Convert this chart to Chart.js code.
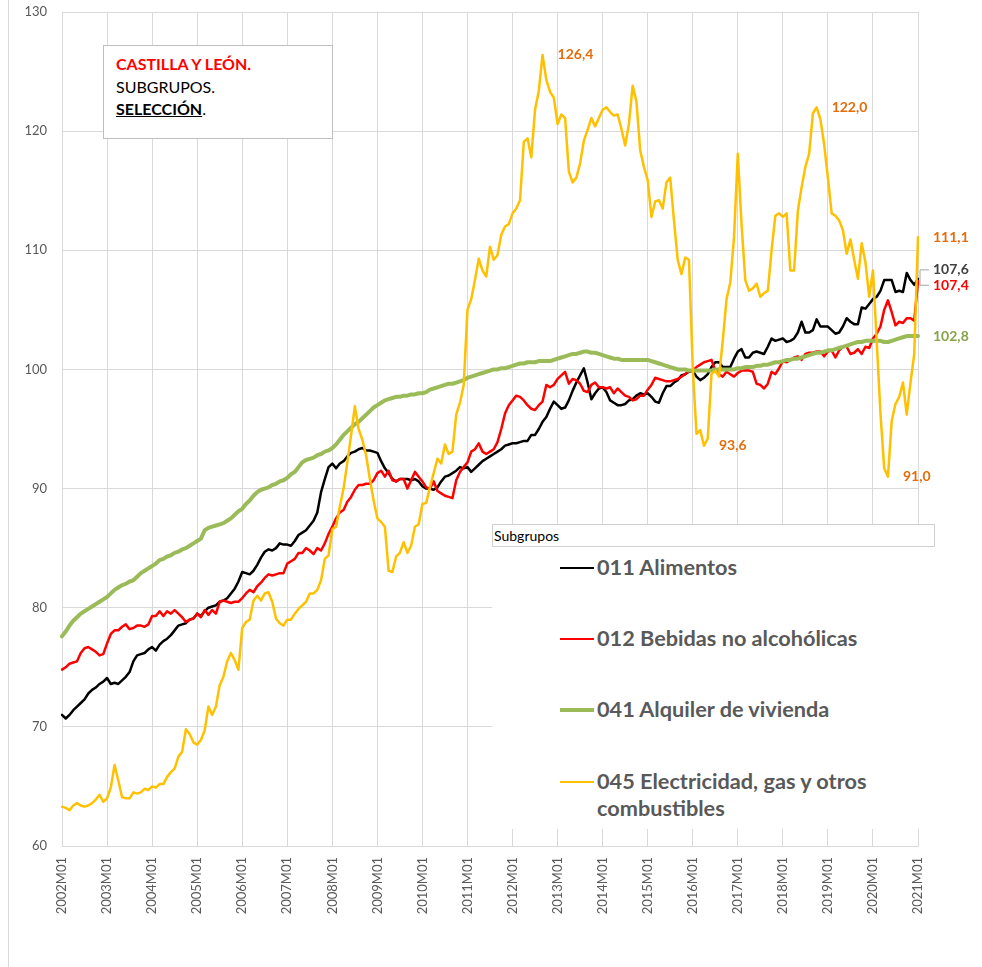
<!DOCTYPE html>
<html lang="es">
<head>
<meta charset="utf-8">
<title>Castilla y León. Subgrupos. Selección</title>
<script src="https://cdn.jsdelivr.net/npm/chart.js@4.4.1/dist/chart.umd.min.js"></script>
<style>
  html, body { margin: 0; padding: 0; background: #fff; }
  #wrap { position: relative; width: 982px; height: 967px; overflow: hidden; font-family: Lato, "Open Sans", sans-serif; }
  #frame-left { position: absolute; left: 8px; top: 0; width: 0; height: 967px; border-left: 1px solid #D9D9D9; }
  #titulo { position: absolute; left: 103px; top: 45px; width: 230px; height: 94px; box-sizing: border-box;
            border: 1px solid #BFBFBF; background: #fff; padding: 7px 0 0 12px; font-size: 16px; line-height: 22.5px; color: #000; }
  #titulo .rojo { color: #FF0000; font-weight: bold; }
  #titulo .sel { font-weight: bold; text-decoration: underline; }
  #leyenda { position: absolute; left: 492px; top: 524px; width: 450px; height: 305px; background: #fff; }
  #leyenda-cab { position: absolute; left: 0; top: 0; width: 443px; height: 23px; box-sizing: border-box;
                 border: 1px solid #D0D0D0; font-size: 14px; line-height: 21px; padding-left: 1px; color: #000; }
  .item { position: absolute; left: 68px; }
  .item .linea { position: absolute; left: 0; width: 34px; }
  .item .texto { position: absolute; left: 37px; white-space: nowrap; font-weight: bold; font-size: 21.7px; line-height: 27px; color: #595959; }
</style>
</head>
<body>
<div id="wrap">
  <canvas id="grafico" width="982" height="967"></canvas>
  <div id="frame-left"></div>
  <div id="titulo">
    <div class="rojo">CASTILLA Y LEÓN.</div>
    <div>SUBGRUPOS.</div>
    <div><span class="sel">SELECCIÓN</span>.</div>
  </div>
  <div id="leyenda">
    <div id="leyenda-cab">Subgrupos</div>
  </div>
</div>
<script>
// categorias: 2002M01 ... 2021M01
const meses = [];
for (let a = 2002; a <= 2021; a++) {
    for (let m = 1; m <= 12; m++) {
        if (a === 2021 && m > 1) break;
        meses.push(a + 'M' + String(m).padStart(2, '0'));
    }
}

const nombres = ['011 Alimentos', '012 Bebidas no alcohólicas', '041 Alquiler de vivienda', '045 Electricidad, gas y otros combustibles'];

// 011 Alimentos
const alimentos = [
    71.0, 70.7, 71.0, 71.4, 71.7, 72.0, 72.3, 72.8, 73.1, 73.3, 73.6, 73.8,   // 2002
    74.1, 73.6, 73.7, 73.6, 73.9, 74.2, 74.6, 75.5, 76.0, 76.1, 76.2, 76.5,   // 2003
    76.7, 76.4, 76.9, 77.2, 77.4, 77.7, 78.1, 78.5, 78.6, 78.7, 79.0, 79.1,   // 2004
    79.5, 79.3, 79.7, 80.0, 80.1, 80.2, 80.5, 80.6, 80.8, 81.2, 81.6, 82.2,   // 2005
    83.0, 82.9, 82.8, 83.1, 83.6, 84.2, 84.7, 84.9, 84.8, 85.0, 85.4, 85.3,   // 2006
    85.3, 85.2, 85.6, 86.1, 86.3, 86.5, 86.9, 87.3, 88.0, 89.7, 90.8, 91.8,   // 2007
    92.1, 91.7, 92.1, 92.3, 92.7, 93.0, 93.1, 93.3, 93.4, 93.2, 93.2, 93.1,   // 2008
    93.0, 92.3, 91.7, 91.3, 90.8, 90.6, 90.8, 90.8, 90.8, 90.7, 90.8, 90.6,   // 2009
    90.2, 90.0, 90.0, 89.9, 90.1, 90.6, 91.0, 91.1, 91.3, 91.5, 91.8, 91.7,   // 2010
    91.8, 91.4, 91.7, 92.0, 92.3, 92.5, 92.7, 92.9, 93.1, 93.3, 93.6, 93.7,   // 2011
    93.8, 93.8, 93.9, 94.0, 94.0, 94.5, 94.5, 95.0, 95.6, 96.0, 96.7, 97.3,   // 2012
    97.0, 96.7, 96.8, 97.4, 98.2, 98.9, 99.5, 100.1, 98.9, 97.5, 98.0, 98.4,  // 2013
    98.5, 98.1, 97.4, 97.2, 97.0, 97.0, 97.1, 97.4, 97.5, 97.8, 98.0, 97.9,   // 2014
    98.0, 97.7, 97.3, 97.2, 98.0, 98.6, 98.6, 98.9, 99.1, 99.5, 99.6, 99.8,   // 2015
    99.9, 99.4, 99.1, 99.3, 99.6, 100.2, 100.6, 100.6, 100.2, 100.2, 100.2, 100.9,   // 2016
    101.5, 101.7, 101.0, 101.0, 101.4, 101.5, 101.4, 101.3, 101.9, 102.6, 102.4, 102.5, // 2017
    102.6, 102.3, 102.4, 102.6, 103.1, 104.0, 103.1, 103.1, 103.3, 104.2, 103.6, 103.6, // 2018
    103.6, 103.3, 103.0, 103.1, 103.6, 104.3, 104.0, 103.8, 103.8, 105.2, 105.1, 105.5, // 2019
    105.9, 106.1, 106.6, 107.5, 107.5, 107.5, 106.5, 106.6, 106.5, 108.1, 107.5, 107.1, // 2020
    107.6                                                                               // 2021
];

// 012 Bebidas no alcohólicas
const bebidas = [
    74.8, 75.0, 75.3, 75.4, 75.5, 76.2, 76.6, 76.7, 76.5, 76.3, 76.0, 76.1,   // 2002
    77.0, 77.8, 78.1, 78.1, 78.4, 78.6, 78.2, 78.3, 78.5, 78.5, 78.4, 78.6,   // 2003
    79.3, 79.3, 79.7, 79.3, 79.7, 79.5, 79.8, 79.5, 79.2, 78.8, 79.0, 79.1,   // 2004
    79.5, 79.2, 79.8, 79.4, 79.8, 79.5, 80.5, 80.6, 80.5, 80.4, 80.5, 80.5,   // 2005
    80.8, 81.2, 81.5, 81.3, 81.8, 82.1, 82.5, 82.8, 82.7, 82.8, 82.9, 82.9,   // 2006
    83.7, 83.9, 84.1, 84.6, 84.6, 85.0, 84.8, 84.5, 85.0, 84.8, 85.4, 86.2,   // 2007
    86.8, 87.5, 88.0, 88.2, 88.9, 89.3, 89.9, 90.3, 90.3, 90.4, 90.4, 90.7,   // 2008
    91.3, 91.5, 91.0, 91.5, 90.7, 90.6, 90.8, 90.8, 90.0, 90.7, 91.4, 91.0,   // 2009
    90.6, 90.1, 90.0, 90.6, 89.8, 89.6, 89.4, 89.3, 89.2, 90.7, 91.4, 91.8,   // 2010
    92.2, 93.1, 93.3, 93.8, 93.1, 92.9, 93.1, 93.3, 93.9, 95.0, 96.3, 97.0,   // 2011
    97.4, 97.8, 97.7, 97.4, 97.0, 96.7, 96.6, 97.0, 97.3, 98.7, 98.5, 98.7,   // 2012
    99.2, 99.5, 99.8, 98.8, 99.2, 99.1, 98.8, 98.2, 98.1, 98.7, 98.9, 98.5,   // 2013
    98.5, 98.4, 98.5, 98.0, 98.4, 98.1, 97.8, 97.7, 97.4, 97.5, 97.8, 97.8,   // 2014
    98.3, 98.7, 99.3, 99.2, 99.1, 99.0, 99.0, 99.1, 99.2, 99.4, 99.6, 99.9,   // 2015
    99.9, 100.2, 100.4, 100.6, 100.7, 100.8, 99.9, 99.6, 99.4, 99.8, 99.6, 99.4,       // 2016
    99.7, 99.9, 99.9, 99.9, 99.8, 98.8, 98.7, 98.4, 98.8, 99.8, 99.6, 100.1,           // 2017
    100.7, 100.6, 100.8, 101.0, 101.1, 100.8, 101.3, 101.4, 101.4, 101.5, 101.5, 101.1, // 2018
    101.5, 101.6, 101.0, 101.6, 101.9, 101.9, 101.3, 101.4, 101.7, 101.3, 101.9, 101.8, // 2019
    102.6, 103.0, 103.6, 105.0, 105.8, 104.8, 103.7, 104.0, 103.9, 104.3, 104.3, 104.1, // 2020
    107.4                                                                               // 2021
];

// 041 Alquiler de vivienda
const alquiler = [
    77.6, 78.0, 78.5, 78.9, 79.2, 79.5, 79.7, 79.9, 80.1, 80.3, 80.5, 80.7,   // 2002
    80.9, 81.2, 81.5, 81.7, 81.9, 82.0, 82.2, 82.3, 82.6, 82.9, 83.1, 83.3,   // 2003
    83.5, 83.7, 84.0, 84.1, 84.3, 84.4, 84.6, 84.7, 84.9, 85.0, 85.2, 85.4,   // 2004
    85.6, 85.8, 86.5, 86.7, 86.8, 86.9, 87.0, 87.1, 87.3, 87.5, 87.8, 88.1,   // 2005
    88.3, 88.7, 89.0, 89.4, 89.7, 89.9, 90.0, 90.1, 90.3, 90.4, 90.6, 90.7,   // 2006
    90.9, 91.2, 91.4, 91.8, 92.2, 92.4, 92.5, 92.6, 92.8, 92.9, 93.1, 93.2,   // 2007
    93.4, 93.7, 94.1, 94.5, 94.8, 95.1, 95.4, 95.6, 95.9, 96.2, 96.5, 96.8,   // 2008
    97.0, 97.2, 97.4, 97.5, 97.6, 97.7, 97.7, 97.8, 97.8, 97.9, 97.9, 98.0,   // 2009
    98.0, 98.1, 98.3, 98.4, 98.5, 98.6, 98.7, 98.8, 98.8, 98.9, 99.0, 99.1,   // 2010
    99.3, 99.4, 99.5, 99.6, 99.7, 99.8, 99.9, 100.0, 100.0, 100.1, 100.1, 100.2,       // 2011
    100.3, 100.4, 100.5, 100.5, 100.6, 100.6, 100.6, 100.7, 100.7, 100.7, 100.7, 100.8, // 2012
    100.9, 101.0, 101.1, 101.2, 101.3, 101.3, 101.4, 101.5, 101.5, 101.4, 101.4, 101.3, // 2013
    101.2, 101.1, 101.0, 100.9, 100.9, 100.8, 100.8, 100.8, 100.8, 100.8, 100.8, 100.8, // 2014
    100.8, 100.7, 100.6, 100.5, 100.4, 100.3, 100.2, 100.1, 100.0, 100.0, 100.0, 99.9,  // 2015
    99.9, 99.9, 99.9, 99.9, 99.9, 99.9, 100.0, 100.0, 100.0, 100.0, 100.0, 100.0,      // 2016
    100.1, 100.1, 100.2, 100.2, 100.2, 100.3, 100.3, 100.4, 100.4, 100.5, 100.6, 100.6, // 2017
    100.7, 100.8, 100.8, 100.9, 100.9, 101.0, 101.1, 101.2, 101.3, 101.4, 101.4, 101.5, // 2018
    101.6, 101.6, 101.7, 101.8, 101.9, 102.0, 102.1, 102.2, 102.3, 102.3, 102.4, 102.4, // 2019
    102.4, 102.4, 102.4, 102.3, 102.3, 102.4, 102.5, 102.6, 102.7, 102.8, 102.8, 102.8, // 2020
    102.8                                                                               // 2021
];

// 045 Electricidad, gas y otros combustibles
const electricidad = [
    63.3, 63.2, 63.0, 63.4, 63.6, 63.4, 63.3, 63.4, 63.6, 63.9, 64.3, 63.7,   // 2002
    64.0, 64.9, 66.8, 65.5, 64.1, 64.0, 64.0, 64.5, 64.4, 64.5, 64.8, 64.7,   // 2003
    65.0, 64.9, 65.2, 65.2, 65.8, 66.2, 66.5, 67.5, 67.9, 69.8, 69.4, 68.7,   // 2004
    68.5, 68.9, 69.7, 71.7, 71.0, 71.7, 73.5, 74.2, 75.5, 76.2, 75.6, 74.8,   // 2005
    78.3, 78.8, 79.0, 80.6, 81.0, 80.6, 81.2, 81.3, 80.5, 79.1, 78.7, 78.5,   // 2006
    79.0, 79.0, 79.5, 79.9, 80.2, 80.5, 81.2, 81.2, 81.5, 82.3, 84.1, 84.4,   // 2007
    86.6, 86.8, 88.5, 90.0, 92.2, 94.5, 96.9, 95.0, 94.1, 92.8, 90.8, 89.0,   // 2008
    87.5, 87.2, 86.8, 83.1, 83.0, 84.3, 84.6, 85.5, 84.6, 85.2, 86.8, 87.0,   // 2009
    88.7, 88.8, 90.1, 91.3, 92.5, 92.1, 93.7, 92.9, 93.1, 96.2, 97.2, 98.7,   // 2010
    105.0, 105.9, 107.5, 109.3, 108.3, 107.8, 110.3, 109.2, 109.6, 111.3, 112.0, 112.2, // 2011
    113.1, 113.5, 114.2, 119.1, 119.4, 117.8, 121.8, 123.4, 126.4, 124.3, 123.3, 122.8, // 2012
    120.6, 121.4, 121.1, 116.6, 115.7, 116.1, 117.3, 119.2, 120.1, 121.1, 120.4, 121.1, // 2013
    121.8, 122.0, 121.6, 121.3, 121.4, 120.2, 118.8, 120.6, 123.8, 122.5, 118.4, 117.0, // 2014
    115.9, 112.8, 114.1, 114.2, 113.5, 115.7, 116.1, 112.5, 109.2, 108.0, 109.4, 109.2, // 2015
    100.2, 94.6, 94.9, 93.6, 94.2, 99.6, 99.9, 99.4, 102.4, 105.9, 107.3, 111.1,       // 2016
    118.1, 112.2, 107.5, 106.6, 106.8, 107.2, 106.1, 106.4, 106.6, 110.0, 112.9, 113.1, // 2017
    112.8, 113.1, 108.3, 108.3, 113.3, 115.3, 117.0, 118.1, 121.5, 122.0, 121.0, 118.9, // 2018
    116.1, 113.1, 112.9, 112.5, 111.7, 109.7, 110.9, 109.2, 107.6, 110.6, 109.0, 106.1, // 2019
    108.3, 102.4, 96.3, 91.7, 91.0, 95.7, 97.1, 97.7, 98.9, 96.2, 98.9, 101.3,         // 2020
    111.1                                                                               // 2021
];

// eje Y
const ticksY = [60, 70, 80, 90, 100, 110, 120, 130];

// etiquetas de datos (serie, indice del mes)
const etiquetas = [
    [3, 128], [3, 171], [3, 201], [3, 220], [3, 228],
    [0, 228], [1, 228], [2, 228]
];

const colores = ['#000000', '#FF0000', '#9BBB59', '#FFC000'];
const coloresEtiqueta = ['#404040', '#FF0000', '#86A34A', '#E46C0A'];
const grosores = [2.5, 2.5, 4, 2.5];
const series = [alimentos, bebidas, alquiler, electricidad];

// leyenda en html
const leyenda = document.getElementById('leyenda');
const centrosLeyenda = [44, 115, 186, 258];
nombres.forEach(function(nombre, i) {
    const item = document.createElement('div');
    item.className = 'item';
    item.style.top = centrosLeyenda[i] + 'px';
    const linea = document.createElement('div');
    linea.className = 'linea';
    linea.style.top = (-grosores[i] / 2) + 'px';
    linea.style.height = grosores[i] + 'px';
    linea.style.background = colores[i];
    const texto = document.createElement('div');
    texto.className = 'texto';
    texto.style.top = '-14px';
    if (i === 3) {
        texto.innerHTML = '045 Electricidad, gas y otros<br>combustibles';
    } else {
        texto.textContent = nombre;
    }
    item.appendChild(linea);
    item.appendChild(texto);
    leyenda.appendChild(item);
});

// etiquetas a la derecha del punto
const etiquetasPlugin = {
    id: 'etiquetasDatos',
    afterDatasetsDraw(chart) {
        const ctx = chart.ctx;
        ctx.save();
        ctx.font = 'bold 14px Lato, sans-serif';
        ctx.textAlign = 'left';
        ctx.textBaseline = 'middle';
        const desplaza = { '0-228': -9, '1-228': 4 };
        etiquetas.forEach(function(e) {
            const s = e[0], i = e[1];
            const p = chart.getDatasetMeta(s).data[i];
            const dy = desplaza[s + '-' + i] || 0;
            ctx.fillStyle = coloresEtiqueta[s];
            ctx.fillText(series[s][i].toFixed(1).replace('.', ','), p.x + 15, p.y + dy);
        });
        // lineas guia de 107,6 y 107,4
        const pa = chart.getDatasetMeta(0).data[228];
        const pb = chart.getDatasetMeta(1).data[228];
        ctx.strokeStyle = '#A6A6A6';
        ctx.lineWidth = 1;
        ctx.beginPath();
        ctx.moveTo(pa.x + 11, pa.y - 9);
        ctx.lineTo(pa.x + 2, pa.y - 9);
        ctx.lineTo(pa.x + 2, pb.y + 4);
        ctx.lineTo(pa.x + 11, pb.y + 4);
        ctx.stroke();
        ctx.restore();
    }
};

const ctx = document.getElementById('grafico').getContext('2d');
new Chart(ctx, {
    type: 'line',
    data: {
        labels: meses,
        datasets: series.map(function(vals, i) {
            return {
                label: nombres[i],
                data: vals,
                borderColor: colores[i],
                backgroundColor: colores[i],
                borderWidth: grosores[i],
                pointRadius: 0,
                tension: 0,
                fill: false,
                borderJoinStyle: 'round',
                borderCapStyle: 'round',
                order: 3 - i
            };
        })
    },
    options: {
        responsive: false,
        animation: false,
        layout: { padding: { left: 0, right: 64, top: 12, bottom: 0 } },
        plugins: {
            legend: { display: false },
            tooltip: { enabled: false }
        },
        scales: {
            x: {
                grid: {
                    color: function(c) { return c.index % 12 === 0 ? '#D9D9D9' : 'rgba(0,0,0,0)'; },
                    drawTicks: false
                },
                border: { color: '#D9D9D9' },
                ticks: {
                    autoSkip: false,
                    minRotation: 90,
                    maxRotation: 90,
                    padding: 11,
                    color: '#595959',
                    font: { family: 'Lato', size: 13 },
                    callback: function(v, i) { return i % 12 === 0 ? meses[i] : ''; }
                },
                afterFit: function(s) { s.height = 121; }
            },
            y: {
                min: ticksY[0],
                max: ticksY[ticksY.length - 1],
                afterBuildTicks: function(s) { s.ticks = ticksY.map(function(v) { return { value: v }; }); },
                grid: { color: '#D9D9D9', drawTicks: false },
                border: { display: false },
                ticks: {
                    padding: 15,
                    color: '#595959',
                    font: { family: 'Lato', size: 13 }
                },
                afterFit: function(s) {
                    s.width = 62;
                    s.paddingTop = 0;
                    s.paddingBottom = 0;
                }
            }
        }
    },
    plugins: [etiquetasPlugin]
});
</script>
</body>
</html>
